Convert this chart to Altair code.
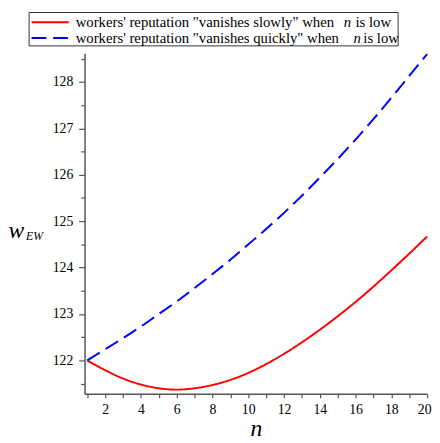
import altair as alt
import pandas as pd

n_vals = list(range(1, 21))
slow = [122.00, 121.79, 121.61, 121.48, 121.40, 121.37, 121.40, 121.47, 121.58, 121.73,
        121.92, 122.14, 122.39, 122.66, 122.95, 123.26, 123.59, 123.94, 124.30, 124.67]
quick = [122.00, 122.24, 122.48, 122.73, 123.00, 123.27, 123.56, 123.86, 124.17, 124.50,
         124.83, 125.18, 125.55, 125.94, 126.34, 126.76, 127.20, 127.66, 128.13, 128.60]

series_names = ["slow", "quick"]
series_colors = ["#ff0000", "#0000ff"]
series_dash = [[1, 0], [15, 7]]
legend_text = ["workers' reputation \"vanishes slowly\" when", "workers' reputation \"vanishes quickly\" when"]

rows = []
for n, a, b in zip(n_vals, slow, quick):
    rows.append({"n": n, "w": a, "series": "slow"})
    rows.append({"n": n, "w": b, "series": "quick"})
df = pd.DataFrame(rows)

FONT = "Liberation Serif, 'Times New Roman', Times, serif"

x_ticks = list(range(1, 21))
y_ticks = [121.5 + 0.5 * i for i in range(15)]

lines = alt.Chart(df).mark_line(strokeWidth=2, interpolate="monotone").encode(
    x=alt.X("n:Q",
            scale=alt.Scale(domain=[0.85, 20], nice=False, zero=False),
            axis=alt.Axis(values=x_ticks, labelExpr="datum.value % 2 == 0 ? datum.label : ''",
                          labelFont=FONT, labelFontSize=14,
                          title="n", titleFontStyle="italic", titleFontSize=24,
                          titleFont=FONT, titleFontWeight="normal", titlePadding=0,
                          tickSize=4, labelPadding=5, labelFlush=True, labelFlushOffset=4)),
    y=alt.Y("w:Q",
            scale=alt.Scale(domain=[121.28, 128.62], nice=False, zero=False),
            axis=alt.Axis(values=y_ticks,
                          labelExpr="datum.value % 1 == 0 ? format(datum.value, 'd') : ''",
                          labelFont=FONT, labelFontSize=14,
                          title="w", titleAngle=0, titleX=-70, titleY=181,
                          titleAlign="center", titleBaseline="middle",
                          titleFontStyle="italic", titleFontSize=24, titleFont=FONT,
                          titleFontWeight="normal",
                          tickSize={"condition": {"test": "datum.value % 1 == 0", "value": 6}, "value": 4},
                          labelPadding=6, labelFlush=False)),
    color=alt.Color("series:N",
                    scale=alt.Scale(domain=series_names, range=series_colors), legend=None),
    strokeDash=alt.StrokeDash("series:N",
                              scale=alt.Scale(domain=series_names, range=series_dash), legend=None),
)

sub = alt.Chart(pd.DataFrame({"t": ["EW"]})).mark_text(
    font=FONT, fontSize=12, fontStyle="italic", align="center", baseline="middle", color="black"
).encode(x=alt.value(-51), y=alt.value(186), text="t:N")

# legend box
leg_box = alt.Chart(pd.DataFrame({"k": [0]})).mark_rect(
    fill="white", stroke="#333333", strokeWidth=1
).encode(x=alt.value(-56.5), x2=alt.value(319.5), y=alt.value(-41.5), y2=alt.value(-7.5))

row_y = [-31.5, -15.5]
n_x = [264, 274]
low_x = [276, 284]

legend_layers = [leg_box]
for i in range(2):
    legend_layers.append(
        alt.Chart(pd.DataFrame({"k": [0]})).mark_rule(
            color=series_colors[i], strokeWidth=2, strokeDash=series_dash[i]
        ).encode(x=alt.value(-54), x2=alt.value(-16), y=alt.value(row_y[i]))
    )
    legend_layers.append(
        alt.Chart(pd.DataFrame({"t": [legend_text[i]]})).mark_text(
            font=FONT, fontSize=15, align="left", baseline="middle", color="black"
        ).encode(x=alt.value(-9), y=alt.value(row_y[i]), text="t:N")
    )
    legend_layers.append(
        alt.Chart(pd.DataFrame({"t": ["n"]})).mark_text(
            font=FONT, fontSize=15, fontStyle="italic", align="left", baseline="middle", color="black"
        ).encode(x=alt.value(n_x[i]), y=alt.value(row_y[i]), text="t:N")
    )
    legend_layers.append(
        alt.Chart(pd.DataFrame({"t": ["is low"]})).mark_text(
            font=FONT, fontSize=15, align="left", baseline="middle", color="black"
        ).encode(x=alt.value(low_x[i]), y=alt.value(row_y[i]), text="t:N")
    )

chart = alt.layer(lines, sub, *legend_layers).properties(
    width=349, height=347,
    autosize=alt.AutoSizeParams(type="none"),
    padding={"left": 78, "top": 42, "right": 5, "bottom": 45},
).configure(font=FONT).configure_view(stroke=None).configure_axis(
    grid=False, domainColor="#555555", tickColor="#555555", domainWidth=1.5, tickWidth=1.2,
    labelFont=FONT, labelFontSize=14, labelColor="black", titleColor="black", titleFont=FONT,
)

chart.save("out.html", embed_options={"renderer": "svg", "actions": False})
